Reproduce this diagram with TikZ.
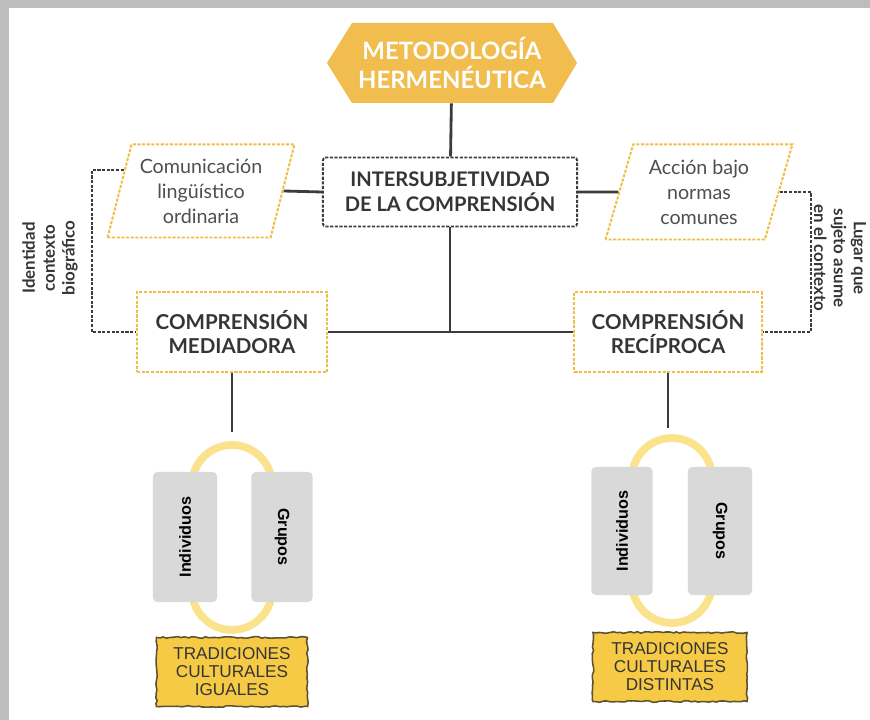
\documentclass[tikz,border=0pt]{standalone}
\usepackage{fontspec}
\setmainfont{Lato}
\newfontfamily\arialfont{Liberation Sans}
\usetikzlibrary{shapes.geometric,decorations.pathmorphing}

\definecolor{hexgold}{HTML}{F0BD4E}
\definecolor{dashgold}{HTML}{EFBF45}
\definecolor{linegray}{HTML}{3C3C3C}
\definecolor{textgray}{HTML}{353535}
\definecolor{softgray}{HTML}{4F4F4F}
\definecolor{boxgray}{HTML}{D9D9D9}
\definecolor{arcyellow}{HTML}{FBE28C}
\definecolor{tradgold}{HTML}{F6CA45}
\definecolor{tradline}{HTML}{5E5130}
\definecolor{framegray}{HTML}{BDBDBD}

\begin{document}
\begin{tikzpicture}[x=0.025cm,y=-0.025cm,
    conector/.style={draw=linegray,line width=2pt},
    guia/.style={draw=linegray,line width=1.4pt,dash pattern=on 2.2pt off 1.1pt},
    marcogris/.style={draw=linegray,line width=1.4pt,dash pattern=on 2.2pt off 1.1pt,rounded corners=2pt,inner sep=0pt,align=center,text=textgray,font=\fontsize{14.3}{17.8}\selectfont\bfseries},
    marcooro/.style={draw=dashgold,line width=1.4pt,dash pattern=on 2.2pt off 1.1pt,inner sep=0pt,align=center,text=textgray,font=\fontsize{14.6}{17.2}\selectfont\bfseries},
    paralelo/.style={trapezium,trapezium left angle=72,trapezium right angle=108,trapezium stretches=true,draw=dashgold,line width=1.4pt,dash pattern=on 2.2pt off 1.1pt,inner sep=0pt,align=center,text=softgray,font=\fontsize{14}{17.8}\selectfont},
    lateral/.style={align=center,text=textgray,inner sep=0pt,font=\fontsize{12}{14.2}\selectfont\bfseries},
    barra/.style={fill=boxgray,rounded corners=3pt,inner sep=0pt,text=black,font=\arialfont\bfseries\fontsize{11.5}{13}\selectfont},
    ciclo/.style={draw=arcyellow,line width=5.5pt},
    tradicion/.style={fill=tradgold,draw=tradline,line width=1.1pt,decorate,decoration={random steps,segment length=2.5pt,amplitude=0.6pt},inner sep=0pt,align=center,text=textgray,font=\arialfont\fontsize{12.2}{12.8}\selectfont}]

    \useasboundingbox (0,0) rectangle (870,720);
    \fill[white] (0,0) rectangle (870,720);
    \fill[framegray] (0,0) rectangle (870,8);
    \fill[framegray] (0,0) rectangle (9,720);

    % cabecera
    \fill[hexgold] (327,63) -- (352,23) -- (553,23) -- (577,63) -- (553,103) -- (352,103) -- cycle;
    \node[minimum height=2cm,inner sep=0pt,align=center,text=white,font=\fontsize{17}{20}\selectfont\bfseries] (hex) at (452,63) {METODOLOGÍA\\HERMENÉUTICA};

    \node[marcogris,minimum width=6.35cm,minimum height=1.725cm] (inter) at (450,192) {INTERSUBJETIVIDAD\\DE LA COMPRENSIÓN};
    \node[paralelo,minimum width=4.675cm,minimum height=2.325cm] (comun) at (201,191) {Comunicación\\lingüístico\\ordinaria};
    \node[paralelo,minimum width=4.675cm,minimum height=2.375cm] (accion) at (699,192) {Acción bajo\\normas\\comunes};
    \node[marcooro,minimum width=4.75cm,minimum height=2cm] (mediad) at (232,332) {COMPRENSIÓN\\MEDIADORA};
    \node[marcooro,minimum width=4.675cm,minimum height=2cm] (recipr) at (668,332) {COMPRENSIÓN\\RECÍPROCA};

    \node[lateral,rotate=90] (identidad) at (50,258) {Identidad\\contexto\\biográfico};
    \node[lateral,rotate=-90] (lugar) at (840,258) {Lugar que\\sujeto asume\\en el contexto};

    \draw[conector] (hex) -- (inter);
    \draw[conector] (comun.east) -- (inter.west);
    \draw[conector] (inter.east) -- (accion.west);
    \coordinate (union) at (inter.south |- mediad.east);
    \draw[conector] (inter.south) -- (union);
    \draw[conector] (mediad.east) -- (recipr.west);
    \draw[guia] (comun.165) -- ++(-32,0) |- (mediad.west);
    \draw[guia] (accion.east) -- ++(31,0) |- (recipr.east);

    % ciclo izquierdo
    \coordinate (pieA) at (232,432);
    \draw[conector] (mediad.south) -- (pieA);
    \draw[ciclo] (192,485) arc[start angle=180,end angle=360,radius=40];
    \draw[ciclo] (272,590) arc[start angle=0,end angle=180,radius=40];
    \node[barra,rotate=90,minimum width=3.25cm,minimum height=1.6cm] (indivA) at (185,537) {Individuos};
    \node[barra,rotate=-90,minimum width=3.25cm,minimum height=1.525cm] (gruposA) at (282,537) {Grupos};
    \node[tradicion,minimum width=3.775cm,minimum height=1.725cm] (tradA) at (232,672) {TRADICIONES\\CULTURALES\\IGUALES};

    % ciclo derecho
    \coordinate (pieB) at (668,428);
    \draw[conector] (recipr.south) -- (pieB);
    \draw[ciclo] (632,478) arc[start angle=180,end angle=360,radius=40];
    \draw[ciclo] (712,583) arc[start angle=0,end angle=180,radius=40];
    \node[barra,rotate=90,minimum width=3.2cm,minimum height=1.525cm] (indivB) at (622,531) {Individuos};
    \node[barra,rotate=-90,minimum width=3.2cm,minimum height=1.6cm] (gruposB) at (720,531) {Grupos};
    \node[tradicion,minimum width=3.85cm,minimum height=1.725cm] (tradB) at (670,667) {TRADICIONES\\CULTURALES\\DISTINTAS};
\end{tikzpicture}
\end{document}
